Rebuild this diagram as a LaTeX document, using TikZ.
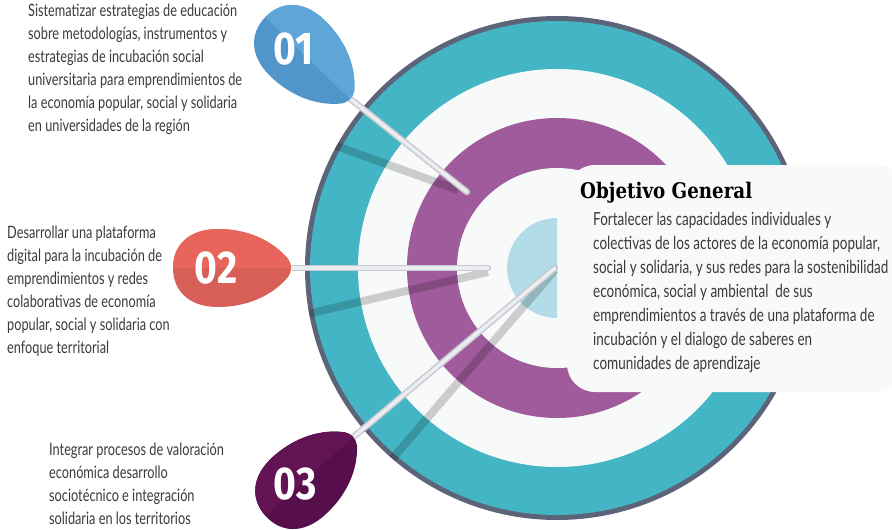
\documentclass[tikz,border=0pt]{standalone}
\usepackage{fontspec}
\setmainfont[FakeStretch=0.75]{Lato}
\newfontfamily\numfont[FakeStretch=0.85]{Fira Sans}
\newfontfamily\titfont[FakeStretch=0.85]{DejaVu Serif}
\definecolor{borde}{HTML}{5B6478}
\definecolor{turquesa}{HTML}{44B5C4}
\definecolor{blanco}{HTML}{F8FAFA}
\definecolor{morado}{HTML}{A05B9C}
\definecolor{celeste}{HTML}{B2DCE7}
\definecolor{azulcla}{HTML}{5EA6D8}
\definecolor{azulosc}{HTML}{5096CB}
\definecolor{rojocla}{HTML}{E8655C}
\definecolor{rojoosc}{HTML}{D85F57}
\definecolor{uvacla}{HTML}{621354}
\definecolor{uvaosc}{HTML}{560F4A}
\definecolor{paloclaro}{HTML}{ECEDF0}
\definecolor{palooscuro}{HTML}{C6C9D0}
\definecolor{gristexto}{HTML}{3A3A3A}

\begin{document}
\begin{tikzpicture}[x=1pt,y=-1pt]
\tikzset{texto/.style={anchor=north west, inner sep=0pt, align=left, text=gristexto, font=\fontsize{17}{23}\selectfont},
  palo/.style={line width=6.5pt, line cap=round, draw=palooscuro},
  paloluz/.style={line width=3.5pt, line cap=round, draw=paloclaro},
  sombra/.style={line width=8pt, draw=black, draw opacity=0.18},
  numero/.style={text=white, inner sep=0pt, font=\numfont\bfseries\fontsize{46}{46}\selectfont},
  pics/gota/.style 2 args={code={
    \fill[#1] (0,-9) .. controls (-15,-27) and (-40,-39) .. (-70,-39) .. controls (-100,-39) and (-115,-22) .. (-115,0) .. controls (-115,22) and (-100,39) .. (-70,39) .. controls (-40,39) and (-15,27) .. (0,9) .. controls (4,3) and (4,-3) .. (0,-9) -- cycle;
    \begin{scope}
      \clip (0,-9) .. controls (-15,-27) and (-40,-39) .. (-70,-39) .. controls (-100,-39) and (-115,-22) .. (-115,0) .. controls (-115,22) and (-100,39) .. (-70,39) .. controls (-40,39) and (-15,27) .. (0,9) .. controls (4,3) and (4,-3) .. (0,-9) -- cycle;
      \fill[#2] (-130,-50) rectangle (10,0);
    \end{scope}
  }}}
\useasboundingbox (0,0) rectangle (892,530);
\clip (0,0) rectangle (892,530);
\coordinate (C) at (557,268);
\fill[borde] (C) circle (252);
\fill[turquesa] (C) circle (247);
\fill[blanco] (C) circle (199);
\fill[morado] (C) circle (150);
\fill[blanco] (C) circle (100);
\begin{scope}
  \clip (500,210) rectangle (557,330);
  \fill[celeste] (C) circle (50);
\end{scope}
\fill[blanco, rounded corners=28pt] (567,165) rectangle (905,392);
\begin{scope}
  \clip (C) circle (252);
  \coordinate (S1) at (320,140);
  \coordinate (S2) at (290,318);
  \coordinate (S3) at (380,473);
  \draw[sombra] (S1) -- (458,190);
  \draw[sombra] (S2) -- (488,272);
  \draw[sombra] (S3) -- (555,270);
\end{scope}
\coordinate (D1) at (467,192);
\coordinate (D2) at (488,268);
\coordinate (D3) at (555,268);
\coordinate (P1) at (348,97);
\coordinate (P2) at (288,268);
\coordinate (P3) at (351,439);
\draw[palo] (P1) -- (D1);
\draw[paloluz] (P1) -- (D1);
\draw[palo] (P2) -- (D2);
\draw[paloluz] (P2) -- (D2);
\draw[palo] (P3) -- (D3);
\draw[paloluz] (P3) -- (D3);
\pic[rotate=-44] at (P1) {gota={azulosc}{azulcla}};
\pic at (P2) {gota={rojoosc}{rojocla}};
\pic[rotate=42] at (P3) {gota={uvaosc}{uvacla}};
\node[numero] (N1) at (294,49) {01};
\node[numero] (N2) at (216,268) {02};
\node[numero] (N3) at (295,484) {03};
\node[texto] (T1) at (28,4) {Sistematizar estrategias de educación\\sobre metodologías, instrumentos y\\estrategias de incubación social\\universitaria para emprendimientos de\\la economía popular, social y solidaria\\en universidades de la región};
\node[texto] (T2) at (7,226) {Desarrollar una plataforma\\digital para la incubación de\\emprendimientos y redes\\colaborativas de economía\\popular, social y solidaria con\\enfoque territorial};
\node[texto] (T3) at (49,443) {Integrar procesos de valoración\\económica desarrollo\\sociotécnico e integración\\solidaria en los territorios};
\node[anchor=base west, inner sep=0pt, font=\titfont\bfseries\fontsize{21.5}{21.5}\selectfont] (OG) at (580,198) {Objetivo General};
\node[texto, font=\fontsize{18}{24}\selectfont] (T4) at (593,212) {Fortalecer las capacidades individuales y\\colectivas de los actores de la economía popular,\\social y solidaria, y sus redes para la sostenibilidad\\económica, social y ambiental\ \ de sus\\emprendimientos a través de una plataforma de\\incubación y el dialogo de saberes en\\comunidades de aprendizaje};
\end{tikzpicture}
\end{document}
